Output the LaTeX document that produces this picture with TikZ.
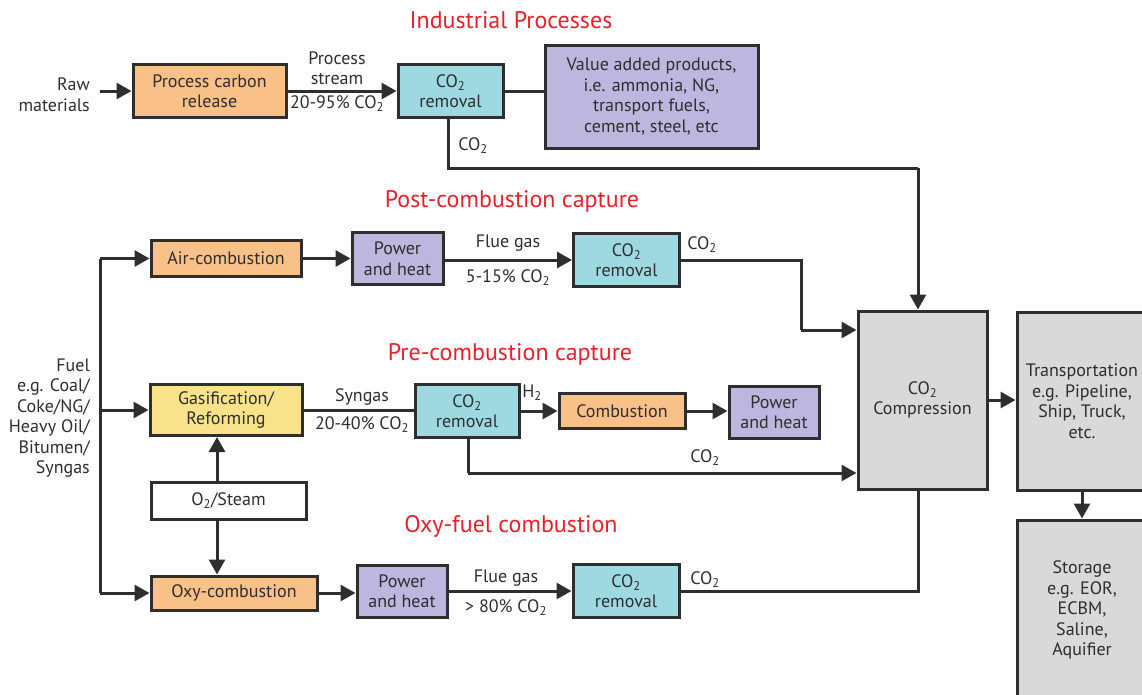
\documentclass[tikz,border=0pt]{standalone}
\usepackage{fontspec}
\setmainfont{PT Sans}
\usetikzlibrary{arrows.meta}
\definecolor{orangebox}{HTML}{F9C088}
\definecolor{bluebox}{HTML}{9ED9E2}
\definecolor{purplebox}{HTML}{BDB6DE}
\definecolor{yellowbox}{HTML}{F8E38A}
\definecolor{greybox}{HTML}{D9D9D9}
\definecolor{redtitle}{HTML}{E8202A}
\definecolor{ink}{HTML}{2E2E2E}
\tikzset{
  box/.style={draw=ink, line width=3pt, inner sep=1pt, align=center, text=ink,
    font=\fontsize{18}{20.5}\selectfont},
  conn/.style={draw=ink, line width=3pt},
  arr/.style={conn, -{Triangle[length=15pt,width=16pt]}},
  lbl/.style={text=ink, align=center, font=\fontsize{18}{20.5}\selectfont, inner sep=0pt},
  title/.style={text=redtitle, font=\fontsize{24}{28}\selectfont, inner sep=0pt},
}
\newcommand{\cotwo}{CO\textsubscript{2}}
\begin{document}
\begin{tikzpicture}[x=1pt,y=-1pt]
\useasboundingbox (0,0) rectangle (1142,694);
% titles
\node[title] (t1) at (511,20) {Industrial Processes};
\node[title] (t2) at (512,201) {Post-combustion capture};
\node[title] (t3) at (510,354) {Pre-combustion capture};
\node[title] (t4) at (511,526) {Oxy-fuel combustion};
% industrial
\node[lbl, anchor=east, align=right] (raw) at (90,94.5) {Raw\\materials};
\coordinate (rawin) at (100,91);
\node[box, fill=orangebox, minimum width=153pt, minimum height=53pt] (pcr) at (209.5,91) {Process carbon\\release};
\node[box, fill=bluebox, minimum width=105pt, minimum height=53pt] (rem1) at (450.5,91) {\cotwo\\removal};
\node[box, fill=purplebox, minimum width=213pt, minimum height=103pt] (vap) at (651.5,96.5) {Value added products,\\i.e. ammonia, NG,\\transport fuels,\\cement, steel, etc};
\node[lbl] (ps) at (337,68) {Process\\stream};
\node[lbl] (ps2) at (337,104) {20-95\% \cotwo};
\node[lbl] (c1) at (473,146) {\cotwo};
% compression, transport, storage
\node[box, fill=greybox, minimum width=129pt, minimum height=178pt] (comp) at (922.5,400) {\cotwo\\Compression};
\node[box, fill=greybox, minimum width=130pt, minimum height=178pt] (trans) at (1082,401) {Transportation\\e.g. Pipeline,\\Ship, Truck,\\etc.};
\node[box, fill=greybox, minimum width=130pt, minimum height=180pt] (stor) at (1082,610) {Storage\\e.g. EOR,\\ECBM,\\Saline,\\Aquifier};
% post-combustion
\node[box, fill=orangebox, minimum width=150pt, minimum height=36pt] (air) at (226,258.5) {Air-combustion};
\node[box, fill=purplebox, minimum width=91pt, minimum height=52pt] (ph1) at (397.5,258.5) {Power\\and heat};
\node[box, fill=bluebox, minimum width=106pt, minimum height=53pt] (rem2) at (626.5,260) {\cotwo\\removal};
\node[lbl] (fg1) at (508,243) {Flue gas};
\node[lbl] (fg1b) at (508,278) {5-15\% \cotwo};
\node[lbl] (c2) at (702,245) {\cotwo};
% pre-combustion
\node[lbl, anchor=east, align=right] (fuel) at (90,418) {Fuel\\e.g. Coal/\\Coke/NG/\\Heavy Oil/\\Bitumen/\\Syngas};
\node[box, fill=yellowbox, minimum width=152pt, minimum height=51pt] (gas) at (226,410) {Gasification/\\Reforming};
\node[box, fill=white, minimum width=155pt, minimum height=37pt] (o2) at (228.5,500.5) {O\textsubscript{2}/Steam};
\node[box, fill=bluebox, minimum width=104pt, minimum height=53pt] (rem3) at (467,411) {\cotwo\\removal};
\node[box, fill=orangebox, minimum width=126pt, minimum height=35pt] (comb) at (622,411) {Combustion};
\node[box, fill=purplebox, minimum width=90pt, minimum height=52pt] (ph2) at (774,412) {Power\\and heat};
\node[lbl] (sg) at (362,397) {Syngas};
\node[lbl] (sg2) at (362,425) {20-40\% \cotwo};
\node[lbl] (h2) at (532,393) {H\textsubscript{2}};
\node[lbl] (c3) at (705,458) {\cotwo};
% oxy-fuel
\node[box, fill=orangebox, minimum width=166pt, minimum height=34pt] (oxy) at (234,593) {Oxy-combustion};
\node[box, fill=purplebox, minimum width=90pt, minimum height=52pt] (ph3) at (402,591) {Power\\and heat};
\node[box, fill=bluebox, minimum width=106pt, minimum height=53pt] (rem4) at (626,591) {\cotwo\\removal};
\node[lbl] (fg3) at (506,578) {Flue gas};
\node[lbl] (fg3b) at (506,608) {> 80\% \cotwo};
\node[lbl] (c4) at (705,580) {\cotwo};
% coordinates
\coordinate (ftop) at (100,258.5);
\coordinate (fmid) at (100,410);
\coordinate (fbot) at (100,593);
\coordinate (vx) at (217,0);
\coordinate (x448) at (448,0);
\coordinate (x468) at (468,0);
\coordinate (k1) at (448,168);
\coordinate (k2) at (918,168);
\coordinate (p1) at (801,260);
\coordinate (p2) at (801,330);
\coordinate (q1) at (468,473);
\coordinate (o1) at (918,592);
% connectors industrial
\draw[arr] (rawin) -- (pcr.west |- rawin);
\draw[arr] (pcr.east) -- (rem1.west);
\draw[conn] (rem1.east) -- (vap.west |- rem1.east);
\draw[conn] (rem1.south -| x448) -- (k1) -- (k2);
\draw[arr] (k2) -- (comp.north -| k2);
% fuel
\draw[conn] (ftop) -- (fbot);
\draw[arr] (ftop) -- (air.west);
\draw[arr] (fmid) -- (gas.west);
\draw[arr] (fbot) -- (oxy.west);
\draw[arr] (o2.north -| vx) -- (gas.south -| vx);
\draw[arr] (o2.south -| vx) -- (oxy.north -| vx);
% post
\draw[arr] (air.east) -- (ph1.west);
\draw[arr] (ph1.east |- rem2.west) -- (rem2.west);
\draw[conn] (rem2.east) -- (p1) -- (p2);
\draw[arr] (p2) -- (comp.west |- p2);
% pre
\draw[conn] (gas.east) -- (rem3.west |- gas.east);
\draw[arr] (rem3.east) -- (comb.west);
\draw[arr] (comb.east) -- (ph2.west |- comb.east);
\draw[conn] (rem3.south -| x468) -- (q1);
\draw[arr] (q1) -- (comp.west |- q1);
% oxy
\draw[arr] (oxy.east) -- (ph3.west |- oxy.east);
\draw[arr] (ph3.east |- rem4.west) -- (rem4.west);
\draw[conn] (rem4.east) -- (rem4.east -| o1) -- (comp.south -| o1);
% transport
\draw[arr] (comp.east) -- (trans.west |- comp.east);
\draw[arr] (trans.south) -- (stor.north);
\end{tikzpicture}
\end{document}
